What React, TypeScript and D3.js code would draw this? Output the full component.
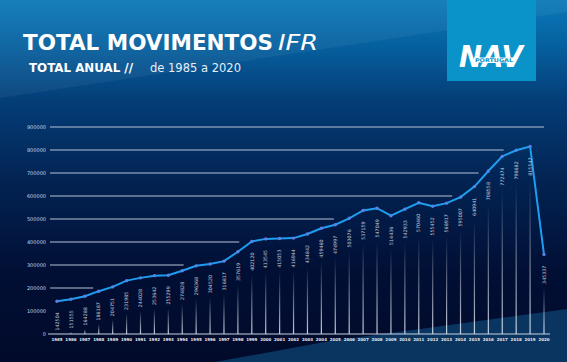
import React from 'react';
import * as d3 from 'd3';

const years = [1985,1986,1987,1988,1989,1990,1991,1992,1993,1994,1995,1996,1997,1998,1999,2000,2001,2002,2003,2004,2005,2006,2007,2008,2009,2010,2011,2012,2013,2014,2015,2016,2017,2018,2019,2020];
const values = [142504,151555,164288,186187,204751,231985,244028,253642,255299,274828,296368,304520,316817,357619,402120,413545,415053,416944,434842,459460,474997,503076,537159,547049,514436,542933,570460,555452,568917,595007,640941,708558,772474,798682,815547,345337];
const yTicks = [0,100000,200000,300000,400000,500000,600000,700000,800000,900000];
// year at which each horizontal guide line stops (null = no line)
const gridEnds: (number|null)[] = [2020.4, null, 1987.6, 1994.1, 1998.1, 2004.9, 2013.4, 2015.3, 2017.1, 2020];

const W = 567, H = 362;

export default function App() {
  const x = d3.scaleLinear().domain([1985, 2020]).range([57, 544]);
  const y = d3.scaleLinear().domain([0, 900000]).range([334, 127]);
  const line = d3.line<number>().x((_, i) => x(years[i])).y(d => y(d)).curve(d3.curveLinear);
  const font = "'DejaVu Sans', 'Open Sans', sans-serif";
  return (
    <svg width={W} height={H} style={{ position: 'absolute', left: 0, top: 0 }}>
      <defs>
        <linearGradient id="bg" x1="0" y1="0" x2="0" y2="1">
          <stop offset="0" stopColor="#0a79b9" />
          <stop offset="0.12" stopColor="#0661a0" />
          <stop offset="0.28" stopColor="#043d77" />
          <stop offset="0.5" stopColor="#022352" />
          <stop offset="0.75" stopColor="#010f35" />
          <stop offset="1" stopColor="#010a2a" />
        </linearGradient>
        <linearGradient id="vl" x1="0" y1="0" x2="0" y2="1">
          <stop offset="0" stopColor="#ffffff" stopOpacity="0" />
          <stop offset="1" stopColor="#e8eef8" stopOpacity="0.85" />
        </linearGradient>
      </defs>
      <rect width={W} height={H} fill="url(#bg)" />
      <polygon points="0,0 567,0 567,12 0,98" fill="#ffffff" opacity="0.05" />
      <polygon points="215,362 330,341 420,329 567,309 567,362" fill="#0a3a66" opacity="0.9" />

      {/* title */}
      <text x={23} y={49.5} fill="#fff" fontFamily={font} fontWeight="bold" fontSize={21.5} textLength={250} lengthAdjust="spacingAndGlyphs">TOTAL MOVIMENTOS</text>
      <text x={278} y={49.5} fill="#fff" fontFamily={font} fontStyle="italic" fontWeight="300" fontSize={21.5} textLength={40} lengthAdjust="spacingAndGlyphs">IFR</text>
      <text x={29} y={72} fill="#fff" fontFamily={font} fontWeight="bold" fontSize={12} textLength={104} lengthAdjust="spacingAndGlyphs">TOTAL ANUAL //</text>
      <text x={150} y={72} fill="#e6eef8" fontFamily={font} fontSize={12} textLength={91} lengthAdjust="spacingAndGlyphs">de 1985 a 2020</text>

      {/* logo */}
      <rect x={447} y={0} width={89} height={81} fill="#0a93c9" />
      <text x={491} y={67} textAnchor="middle" fill="#fff" fontFamily={font} fontWeight="bold" fontStyle="italic" fontSize={30} textLength={64} lengthAdjust="spacingAndGlyphs">NAV</text>
      <rect x={474} y={57.5} width={40} height={5} fill="#ffffff" />
      <text x={494} y={62} textAnchor="middle" fill="#0a93c9" fontFamily={font} fontWeight="bold" fontSize={5} textLength={38} lengthAdjust="spacingAndGlyphs">PORTUGAL</text>

      {/* grid lines */}
      {yTicks.map((t, i) => (
        <g key={t}>
          {gridEnds[i] !== null && i > 0 && (
            <line x1={50} x2={x(gridEnds[i] as number)} y1={y(t)} y2={y(t)} stroke="#b7c2d3" strokeWidth={1.2} />
          )}
          <text x={46} y={y(t) + 1.8} textAnchor="end" fill="#c9d3e2" fontFamily={font} fontSize={5}>{t}</text>
        </g>
      ))}

      {/* vertical guide bars */}
      {values.map((v, i) => {
        const top = y(v) + 33;
        const h = 334 - top;
        return h > 0 ? <rect key={i} x={x(years[i]) - 0.6} y={top} width={1.2} height={h} fill="url(#vl)" /> : null;
      })}

      {/* axis */}
      <line x1={48} x2={550} y1={334} y2={334} stroke="#c7d1df" strokeWidth={1.2} />
      {years.map(yr => (
        <text key={yr} x={x(yr)} y={340.5} textAnchor="middle" fill="#e4eaf3" fontFamily={font} fontWeight="bold" fontSize={4}>{yr}</text>
      ))}

      {/* line */}
      <path d={line(values) || ''} fill="none" stroke="#1c9ff0" strokeWidth={2} />
      {values.map((v, i) => (
        <circle key={i} cx={x(years[i])} cy={y(v)} r={1.7} fill="#5b80e6" />
      ))}

      {/* value labels */}
      {values.map((v, i) => (
        <text key={i} transform={`translate(${x(years[i]) + 1.7},${y(v) + 11}) rotate(-90)`} textAnchor="end" fill="#c3cddc" fontFamily={font} fontSize={4.8}>{v}</text>
      ))}
    </svg>
  );
}
